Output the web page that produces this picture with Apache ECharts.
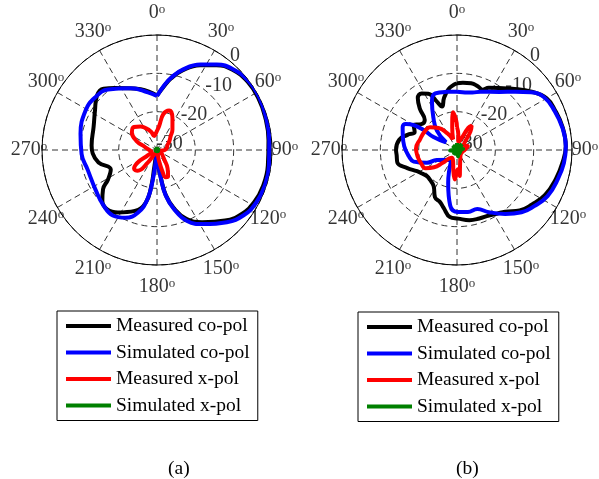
<!DOCTYPE html>
<html>
<head>
<meta charset="utf-8">
<script src="https://cdn.jsdelivr.net/npm/echarts@6/dist/echarts.min.js"></script>
<style>
  html, body { margin: 0; padding: 0; background: #fff; }
  #chart { width: 599px; height: 479px; }
</style>
</head>
<body>
<div id="chart"></div>
<script>
// angle (deg, clockwise from top) / level (dB) pairs
const seriesNames = ['Measured co-pol', 'Simulated co-pol', 'Measured x-pol', 'Simulated x-pol'];
const seriesColors = ['#000000', '#0000ff', '#ff0000', '#008000'];
const angleTicks = [0, 30, 60, 90, 120, 150, 180, 210, 240, 270, 300, 330];
const ringTicks = [-30, -20, -10, 0];
const ringLabels = ['-30', '-20', '-10', '0'];
const captions = ['(a)', '(b)'];

// (a)
const measCoA = [[0,-15.8],[6,-13.4],[11,-11],[18,-8.1],[27,-5.2],[35,-3],[43,-1.3],[53,-0.4],[63,-0.3],[73,-0.5],[85,-0.8],[98,-0.8],[109,-0.8],[118,-1.2],[127,-2.3],[136,-4.4],[148,-7.8],[157,-10.5],[164,-14.3],[169,-18],[172,-22.5],[176,-27],[180,-29.5],[189,-25.6],[189,-20.5],[192,-16],[200,-13.1],[212,-10.8],[220,-9.8],[227,-10.5],[234,-12.6],[239,-15.1],[247,-16.9],[258,-14.4],[267,-13.2],[274,-12.9],[290,-12.4],[302,-10.9],[312,-8.9],[319,-8.8],[326,-10.5],[335,-12.2],[345,-13.6],[352,-14.6],[360,-15.8]];
const simCoA = [[0,-15.9],[6,-13.2],[11,-10.8],[18,-7.9],[27,-5.0],[35,-2.8],[43,-1.1],[53,-0.1],[63,0],[73,-0.3],[85,-0.6],[98,-0.5],[109,-0.4],[118,-0.7],[127,-1.7],[136,-3.8],[148,-7.2],[157,-9.9],[164,-14],[169,-17.8],[172,-22.2],[175,-26.5],[180,-29.5],[186,-27.3],[188,-22.2],[191,-16.9],[197,-12.9],[205,-10.5],[214,-9.4],[224,-9.9],[237,-10.9],[254,-11.2],[267,-10.3],[282,-9.6],[299,-8.7],[310,-8.8],[321,-9.7],[337,-12.5],[351,-14.8],[360,-15.9]];
const measXA = [[0,-25],[5,-23.8],[10,-20.5],[17,-19.2],[26,-20.8],[37,-23.3],[45,-25],[54,-26],[65,-27],[78,-27.4],[90,-28],[110,-29],[130,-28.3],[142,-27],[150,-24.5],[157,-22.6],[162,-22.5],[166,-24.4],[170,-27.5],[180,-29.3],[200,-29.3],[211,-28.7],[216,-26],[223,-22.6],[231,-22.3],[237,-24.1],[240,-27.3],[255,-28.5],[270,-28],[284,-26.8],[294,-24.1],[305,-22],[315,-21.5],[325,-22.5],[332,-23.5],[342,-25],[349,-26.3],[355,-25.8],[360,-25]];
const simXA = [[0,-29.7],[45,-29.6],[90,-29.7],[135,-29.6],[180,-29.7],[225,-29.6],[270,-29.7],[315,-29.6],[360,-29.7]];

// (b)
const measCoB = [[0,-12.6],[5,-12.4],[12,-12.2],[18,-12.5],[23,-12.9],[27,-11.8],[34,-10.5],[42,-8.5],[52,-5.3],[60,-3],[68,-2.4],[78,-1.8],[88,-1.6],[97,-2.3],[106,-3.1],[117,-4.2],[126,-5.8],[134,-7.3],[142,-9.6],[148,-10.4],[154,-11],[162,-11.2],[170,-11.4],[179,-12.1],[186,-12.4],[193,-14.5],[198,-15.7],[205,-16.4],[213,-18.8],[222,-19.5],[229,-19.6],[236,-19],[242,-18.2],[250,-16.2],[258,-14.1],[265,-14.2],[270,-14.1],[280,-14.7],[287,-16.5],[293,-18],[300,-16.9],[306,-18.5],[313,-18.5],[318,-15.5],[323,-13],[328,-12.6],[333,-13.5],[337,-16],[341,-18],[346,-16],[352,-14],[357,-13],[360,-12.6]];
const simCoB = [[0,-14.8],[15,-14.5],[22,-13.6],[36,-11.3],[45,-8.5],[52,-5.5],[59,-3.4],[68,-2.6],[78,-1.9],[88,-1.6],[97,-1.9],[106,-2.6],[117,-3.5],[126,-5.1],[134,-6.6],[143,-9.1],[153,-11.8],[161,-13.7],[170,-13.6],[179,-13.8],[187,-15.4],[195,-21.1],[210,-27.1],[244,-24.1],[247,-21.5],[255,-18.3],[262,-17.4],[274,-16.2],[287,-15.2],[293,-14.6],[297,-15],[300,-17],[301,-19.9],[299,-23],[305,-26.5],[314,-22.7],[324,-19.5],[333,-15.6],[339,-14.2],[350,-14.6],[360,-14.8]];
const measXB = [[0,-24],[5,-26],[10,-28],[20,-27],[27,-23.5],[31,-22.6],[36,-24],[42,-26.5],[55,-28],[70,-27],[90,-28],[110,-28.5],[140,-28.5],[160,-27.5],[170,-25.5],[174,-23.2],[178,-25],[184,-22.3],[190,-24.5],[200,-27],[215,-27.5],[228,-25],[233,-22.5],[240,-20.5],[250,-20],[260,-19.6],[272,-19.3],[287,-20],[300,-20.3],[310,-20.8],[320,-22.5],[330,-25],[340,-27],[348,-24],[354,-20.1],[358,-22],[360,-24]];
const simXB = [[0,-28.2],[20,-29.4],[40,-28],[60,-29.3],[80,-28.4],[100,-29.5],[125,-28.6],[150,-29.4],[170,-28.3],[195,-29.3],[215,-28.5],[240,-29.4],[265,-28.2],[290,-29.5],[315,-28.4],[340,-29.3],[360,-28.2]];

const FONT = '"Liberation Serif", "Times New Roman", serif';
const LABEL_R = 3.4; // angle labels sit just outside the 0 dB ring
const chart = echarts.init(document.getElementById('chart'));

function polarDef(cx) {
  return { center: [cx, 150], radius: 115 };
}

function angleAxisDef(idx) {
  return {
    polarIndex: idx,
    type: 'value',
    min: 0,
    max: 360,
    interval: 30,
    startAngle: 90,
    clockwise: true,
    axisLine: { lineStyle: { color: '#000', width: 1 } },
    axisTick: { show: false },
    axisLabel: { show: false },
    splitLine: { lineStyle: { color: '#333', type: [6, 4], width: 1 } }
  };
}

function radiusAxisDef(idx) {
  return {
    polarIndex: idx,
    type: 'value',
    min: -30,
    max: 0,
    interval: 10,
    axisLine: { show: false },
    axisTick: { show: false },
    axisLabel: { show: false },
    splitLine: { lineStyle: { color: '#333', type: [6, 4], width: 1 } }
  };
}

// MATLAB style degree labels, centred on their spoke
function angleLabelSeries(idx) {
  return {
    type: 'scatter',
    coordinateSystem: 'polar',
    polarIndex: idx,
    silent: true,
    clip: false,
    symbolSize: 0,
    data: angleTicks.map(a => ({
      value: [LABEL_R, a],
      label: { offset: [0, -9 * Math.cos(a * Math.PI / 180)] }
    })),
    label: {
      show: true,
      position: 'inside',
      formatter: p => `{n|${p.value[1]}}{s|o}`,
      rich: {
        n: { fontSize: 20, fontFamily: FONT, color: '#000' },
        s: { fontSize: 13, fontFamily: FONT, color: '#000', verticalAlign: 'top' }
      }
    },
    z: 1
  };
}

function ringLabelSeries(idx) {
  return {
    type: 'scatter',
    coordinateSystem: 'polar',
    polarIndex: idx,
    silent: true,
    symbolSize: 0,
    data: ringTicks.map((r, i) => ({ value: [r, 40], name: ringLabels[i] })),
    label: {
      show: true,
      position: 'right',
      distance: 0,
      offset: [-1, -6],
      formatter: p => p.name,
      fontFamily: FONT,
      fontSize: 20,
      color: '#000'
    },
    z: 1
  };
}

function lineSeries(nameIdx, pts, idx) {
  return {
    name: seriesNames[nameIdx],
    type: 'line',
    coordinateSystem: 'polar',
    polarIndex: idx,
    data: pts.map(p => [p[1], p[0]]),
    smooth: 0.45,
    showSymbol: false,
    symbol: 'none',
    silent: true,
    lineStyle: { color: seriesColors[nameIdx], width: 4 },
    itemStyle: { color: seriesColors[nameIdx] },
    z: 3 + nameIdx
  };
}

function legendDef(left, top) {
  return {
    orient: 'vertical',
    left: left,
    top: top,
    data: seriesNames,
    selectedMode: false,
    icon: 'rect',
    itemWidth: 45,
    itemHeight: 4,
    itemGap: 6.5,
    padding: [5, 8, 5, 9],
    borderColor: '#000',
    borderWidth: 1,
    textStyle: { fontFamily: FONT, fontSize: 19.5, lineHeight: 19, color: '#000' }
  };
}

const option = {
  backgroundColor: '#fff',
  animation: false,
  title: [
    { text: captions[0], left: 163, top: 454, textStyle: { fontFamily: FONT, fontSize: 19.5, fontWeight: 'normal', color: '#000' } },
    { text: captions[1], left: 451, top: 454, textStyle: { fontFamily: FONT, fontSize: 19.5, fontWeight: 'normal', color: '#000' } }
  ],
  polar: [polarDef(157), polarDef(457)],
  angleAxis: [angleAxisDef(0), angleAxisDef(1)],
  radiusAxis: [radiusAxisDef(0), radiusAxisDef(1)],
  legend: [legendDef(57, 311), legendDef(358, 312)],
  series: [
    angleLabelSeries(0),
    angleLabelSeries(1),
    ringLabelSeries(0),
    ringLabelSeries(1),
    lineSeries(0, measCoA, 0),
    lineSeries(1, simCoA, 0),
    lineSeries(2, measXA, 0),
    lineSeries(3, simXA, 0),
    lineSeries(0, measCoB, 1),
    lineSeries(1, simCoB, 1),
    lineSeries(2, measXB, 1),
    lineSeries(3, simXB, 1)
  ]
};

chart.setOption(option);
</script>
</body>
</html>
